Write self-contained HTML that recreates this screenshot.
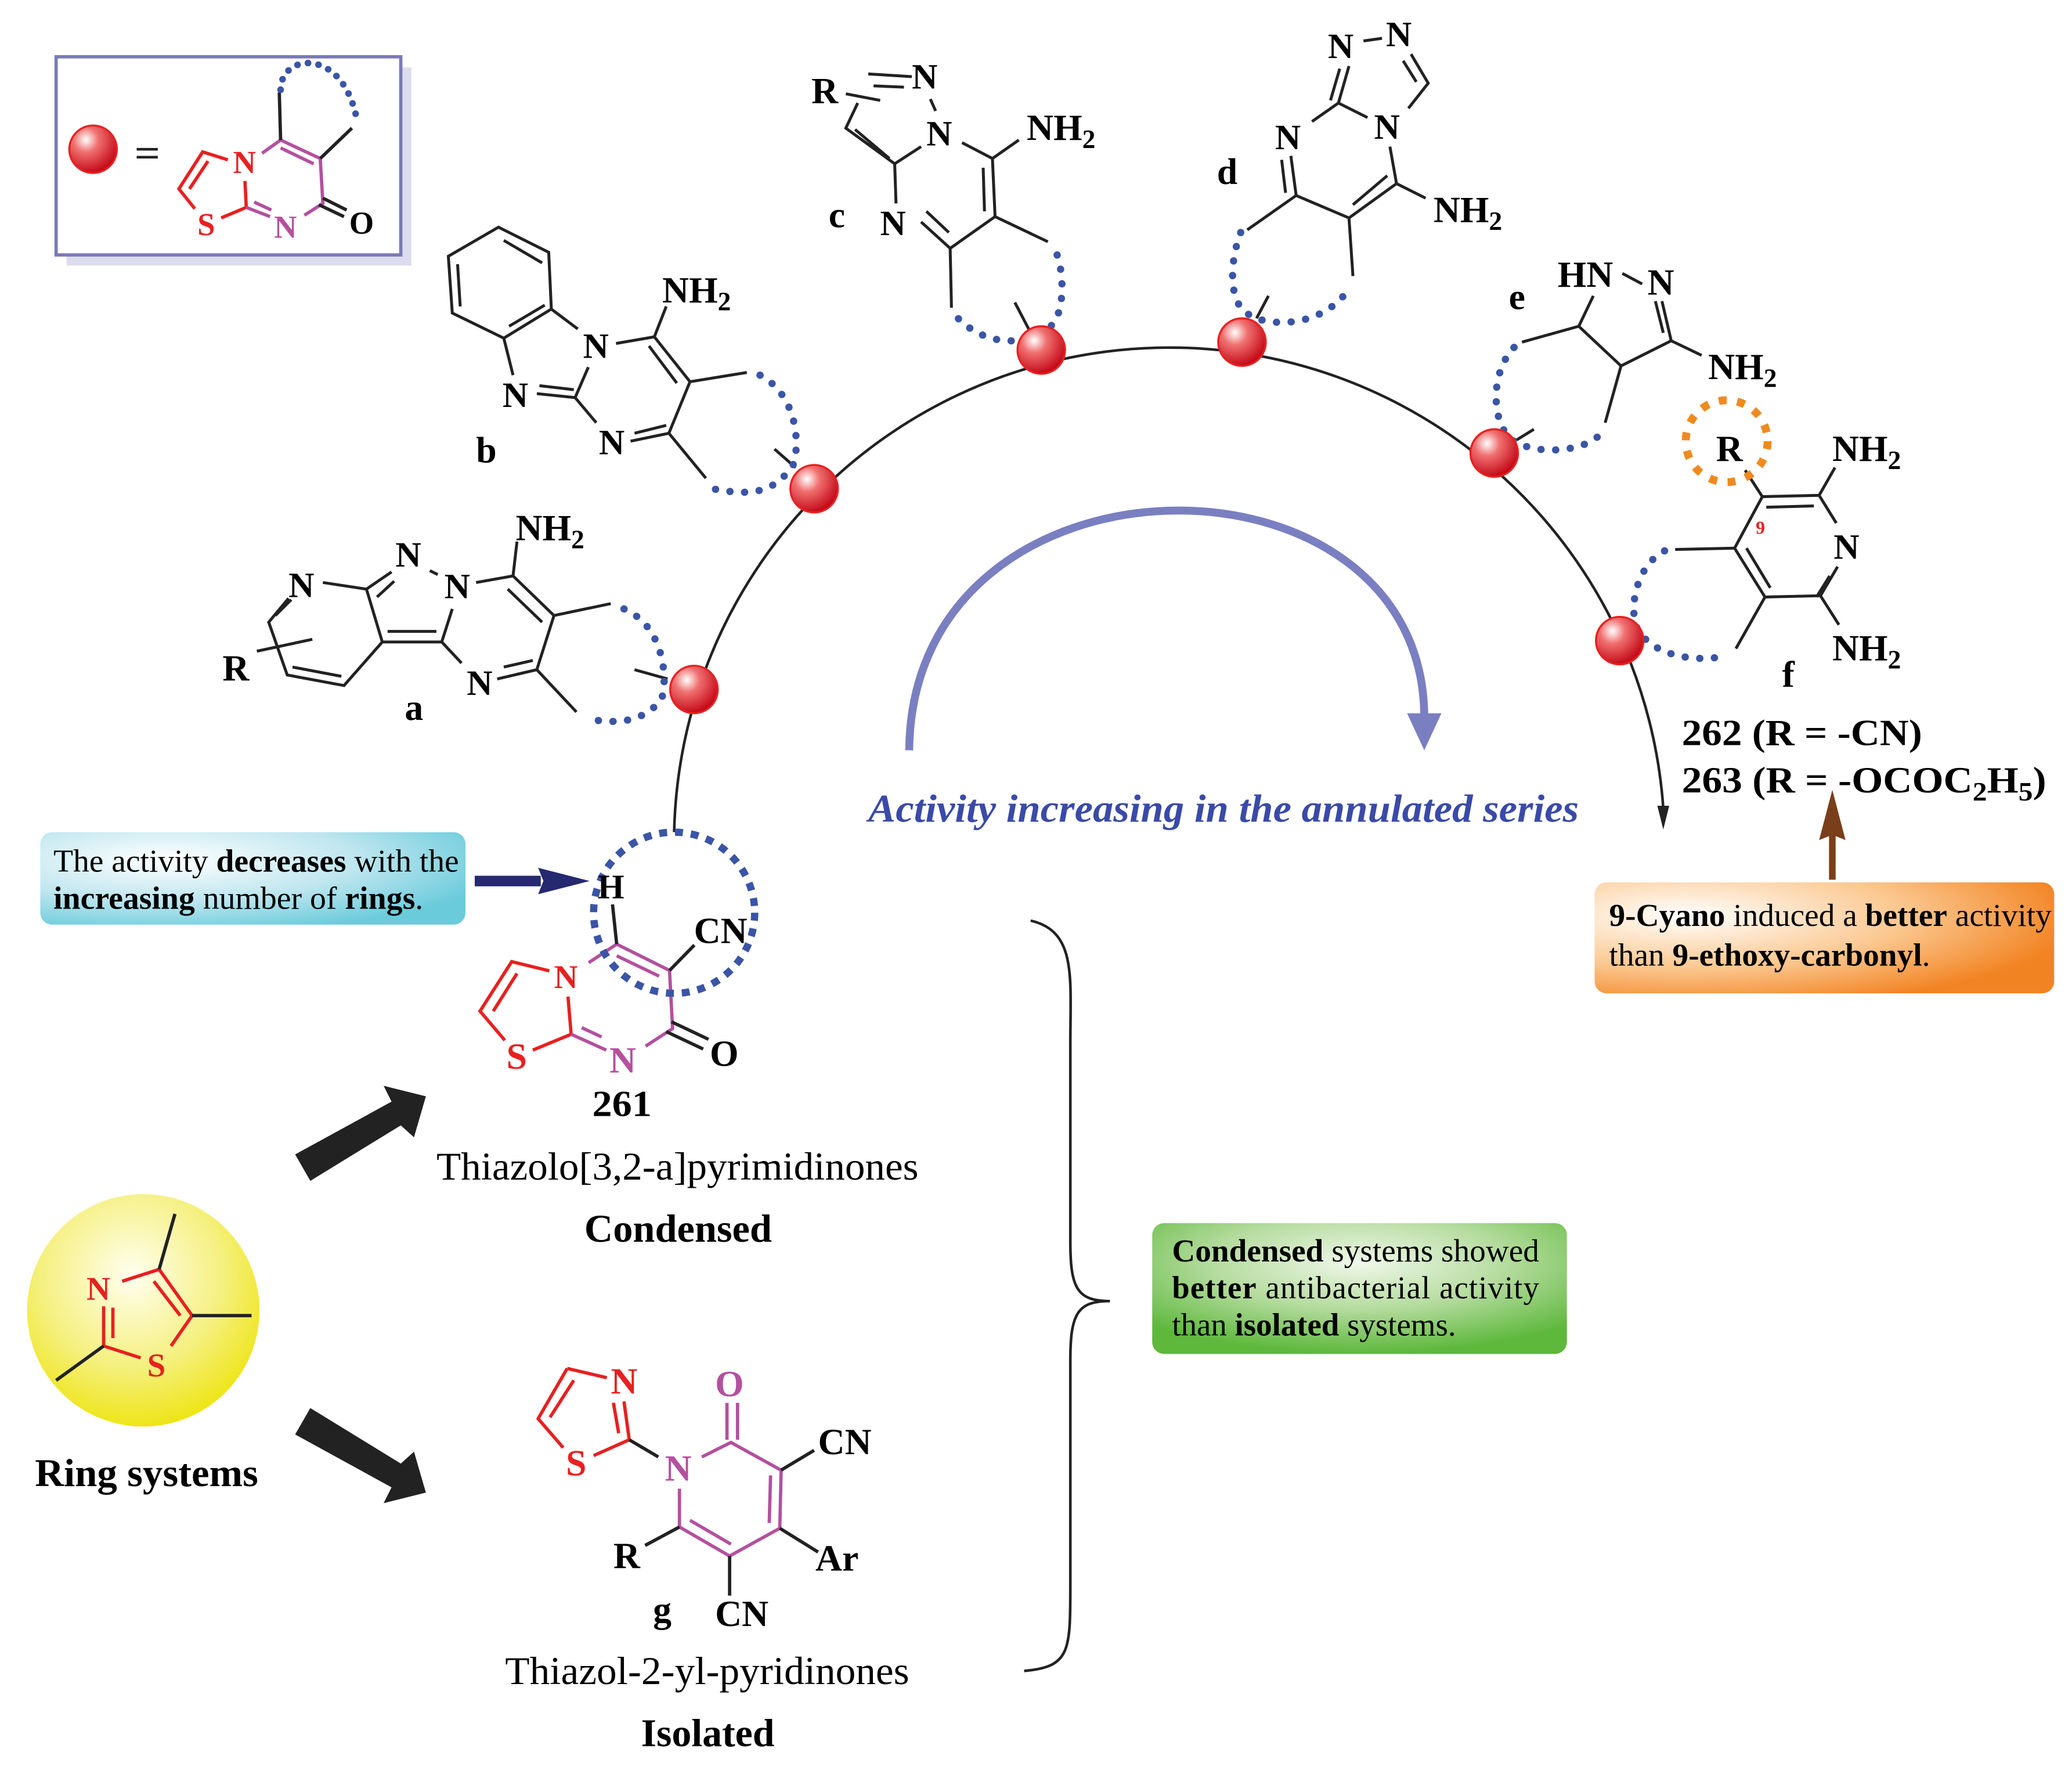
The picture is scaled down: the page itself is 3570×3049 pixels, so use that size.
<!DOCTYPE html>
<html><head><meta charset="utf-8"><style>
html,body{margin:0;padding:0;background:#fff}
svg{display:block}
text{font-family:"Liberation Serif",serif}
</style></head><body>
<svg width="3570" height="3049" viewBox="0 0 1568 1340" xmlns="http://www.w3.org/2000/svg">
<defs>
<radialGradient id="ball" cx="0.35" cy="0.3" r="0.75"><stop offset="0" stop-color="#fff"/><stop offset="0.35" stop-color="#f07070"/><stop offset="1" stop-color="#c00010"/></radialGradient>
<radialGradient id="yel" cx="0.45" cy="0.35" r="0.65"><stop offset="0" stop-color="#fffff0"/><stop offset="0.6" stop-color="#f5f080"/><stop offset="1" stop-color="#eee518"/></radialGradient>
<radialGradient id="cy" cx="0.3" cy="0.3" r="0.8"><stop offset="0" stop-color="#ffffff"/><stop offset="0.55" stop-color="#bfe6ef"/><stop offset="1" stop-color="#6acbdb"/></radialGradient>
<radialGradient id="or" cx="0.2" cy="0.3" r="0.85"><stop offset="0" stop-color="#ffffff"/><stop offset="0.55" stop-color="#fbc890"/><stop offset="1" stop-color="#f28322"/></radialGradient>
<radialGradient id="gr" cx="0.5" cy="0.3" r="0.7"><stop offset="0" stop-color="#f0f8ea"/><stop offset="0.5" stop-color="#b6dca0"/><stop offset="1" stop-color="#5db83b"/></radialGradient>
</defs>
<g font-weight="bold" font-size="28">
<!-- legend box -->
<rect x="50" y="51" width="261" height="150" fill="#dcdcee"/>
<rect x="42" y="43" width="261" height="150" fill="#fff" stroke="#7a7ab8" stroke-width="2.5"/>
<circle cx="70" cy="113" r="18" fill="url(#ball)" stroke="#e82020" stroke-width="1.5"/>
<rect x="103" y="112" width="16" height="2" fill="#222"/><rect x="103" y="118" width="16" height="2" fill="#222"/>
<g fill="none" stroke-width="2.5">
<path d="M172,121 L153,115 L135,143 L147,158 M157,122 L143,143 M167,165 L186,157 L185,137" stroke="#e82020"/>
<path d="M186,157 L204,164 M192,153 L205,159 M230,163 L244,154 L242,120 L212,106 L198,116 M212,112 L237,124" stroke="#b4509e"/>
<path d="M212,106 L211,70 M242,120 L266,97 M244,150 L262,159 M241,155 L260,164" stroke="#222"/>
<path d="M212,68 C212,40 260,35 270,92" stroke="#3a55a6" stroke-dasharray="0.1 8" stroke-linecap="round" stroke-width="5"/>
</g>
<text x="176" y="131" fill="#e82020" font-size="24">N</text>
<text x="149" y="178" fill="#e82020" font-size="24">S</text>
<text x="207" y="180" fill="#b4509e" font-size="24">N</text>
<text x="264" y="177" font-size="24">O</text>

<!-- main arc -->
<path d="M510,630 A375,375 0 0 1 1259,612" fill="none" stroke="#222" stroke-width="2"/>
<path d="M1254.5,610 L1263.5,610 L1259,628 z" fill="#222"/>
<!-- blue arc -->
<path d="M688,568 C690,330 1080,330 1078,545" fill="none" stroke="#7a7fc2" stroke-width="6"/>
<path d="M1065,540 L1078,568 L1091,540 z" fill="#7a7fc2"/>
<text x="657" y="622" fill="#3a4aa8" font-style="italic" font-size="30" textLength="538" lengthAdjust="spacingAndGlyphs">Activity increasing in the annulated series</text>

<g fill="none" stroke="#222" stroke-width="2.2">
<!-- b -->
<path d="M377,172 L415,191 L417,234 L381,256 L342,237 L339,194 z M381,182 L410,199 M346,200 L348,232 M385,247 L412,231"/>
<path d="M417,234 L437,249 M381,256 L388,284 M406,298 L435,301 L445,278 M408,292 L434,295 M435,301 L451,320"/>
<path d="M466,260 L495,255 L504,232 M495,255 L522,289 L506,328 L477,334 M491,262 L512,290 M504,322 L480,328"/>
<path d="M522,289 L565,282 M506,328 L534,362 M586,340 L602,354"/>
<!-- a -->
<path d="M244,441 L277,446 L296,433 M277,446 L289,486 L260,519 L217,511 L203,471 L218,453 M285,452 L298,440 M221,505 L258,512 M208,466 L220,454"/>
<path d="M194,493 L236,484 M289,486 L334,486 L342,461 M293,478 L330,478 M325,432 L331,435"/>
<path d="M360,441 L388,436 L391,410 M388,436 L419,466 L406,507 L376,514 M384,446 L410,471 M403,500 L381,505 M334,486 L349,502"/>
<path d="M419,466 L462,457 M406,507 L436,539 M480,507 L505,514"/>
<!-- c -->
<path d="M640,71 L666,76 M657,56 L690,58 M661,65 L684,66 M704,75 L708,84 M649,78 L640,97 L677,124 L697,111 M647,98 L673,120"/>
<path d="M677,124 L678,154 M697,168 L719,188 L753,164 L751,120 L728,108 M751,120 L771,106 M701,160 L718,176 M745,160 L744,127"/>
<path d="M719,188 L720,233 M753,164 L793,183 M768,229 L780,252"/>
<!-- d -->
<path d="M1032,31 L1046,29 M1068,41 L1081,63 L1066,82 M1062,46 L1072,62 M1035,89 L1013,78 L1021,50 M1013,78 L993,92 M1007,76 L1014,52"/>
<path d="M977,118 L981,148 L1021,165 L1057,139 L1052,111 M970,121 L973,146 M1024,155 L1050,133 M1057,139 L1079,150"/>
<path d="M981,148 L944,174 M1021,165 L1024,209 M960,224 L951,241"/>
<!-- e -->
<path d="M1228,207 L1243,215 M1206,224 L1195,247 L1227,277 L1265,258 L1258,228 M1259,252 L1253,228 M1265,258 L1288,269"/>
<path d="M1195,247 L1152,259 M1227,277 L1215,320 M1161,325 L1148,333"/>
<!-- f -->
<path d="M1321,356 L1334,376 L1377,375 L1389,354 M1377,375 L1390,396 M1337,384 L1373,383 M1391,429 L1378,451 L1336,452 L1313,415 L1334,376 M1385,436 L1375,452 M1322,415 L1340,445"/>
<path d="M1378,451 L1392,473 M1313,415 L1268,416 M1336,452 L1314,491"/>
</g>
<!-- blue dotted arcs -->
<g fill="none" stroke="#3a55a6" stroke-width="5.5" stroke-linecap="round" stroke-dasharray="0.1 11">
<path d="M575,284 C605,300 605,340 600,352 C585,375 565,375 539,370"/>
<path d="M472,461 C505,475 505,520 500,530 C485,548 465,548 443,544"/>
<path d="M800,193 C806,210 806,245 790,250 C775,262 745,262 724,240"/>
<path d="M939,176 C930,200 930,230 945,238 C960,248 1000,248 1020,220"/>
<path d="M1146,263 C1125,285 1130,330 1150,336 C1170,345 1200,340 1210,330"/>
<path d="M1260,417 C1235,430 1232,470 1242,480 C1258,500 1290,500 1304,497"/>
</g>
<circle cx="1307" cy="334" r="31" fill="none" stroke="#f08a20" stroke-width="6" stroke-dasharray="6 8"/>

<text x="501" y="229">NH<tspan font-size="20" dy="6">2</tspan></text>
<text x="380" y="308" font-size="27">N</text><text x="441" y="271" font-size="27">N</text><text x="453" y="344" font-size="27">N</text>
<text x="360" y="350">b</text>
<text x="218" y="452" font-size="27">N</text><text x="299" y="429" font-size="27">N</text><text x="336" y="453" font-size="27">N</text><text x="353" y="526" font-size="27">N</text>
<text x="390" y="409">NH<tspan font-size="20" dy="6">2</tspan></text>
<text x="168" y="515">R</text><text x="306" y="545">a</text>
<text x="614" y="78">R</text><text x="690" y="67" font-size="27">N</text><text x="701" y="110" font-size="27">N</text><text x="666" y="178" font-size="27">N</text>
<text x="777" y="106">NH<tspan font-size="20" dy="6">2</tspan></text><text x="627" y="172">c</text>
<text x="1005" y="44" font-size="27">N</text><text x="1049" y="35" font-size="27">N</text><text x="1040" y="105" font-size="27">N</text><text x="965" y="113" font-size="27">N</text>
<text x="1085" y="168">NH<tspan font-size="20" dy="6">2</tspan></text><text x="921" y="139">d</text>
<text x="1179" y="217">HN</text><text x="1247" y="223">N</text>
<text x="1293" y="287">NH<tspan font-size="20" dy="6">2</tspan></text><text x="1142" y="234">e</text>
<text x="1299" y="349">R</text><text x="1388" y="423" font-size="27">N</text>
<text x="1387" y="349">NH<tspan font-size="20" dy="6">2</tspan></text>
<text x="1387" y="500">NH<tspan font-size="20" dy="6">2</tspan></text>
<text x="1329" y="404" fill="#e82020" font-size="14">9</text>
<text x="1349" y="520">f</text>
<text x="1273" y="564" textLength="182" lengthAdjust="spacingAndGlyphs">262 (R = -CN)</text>
<text x="1273" y="600" textLength="276" lengthAdjust="spacingAndGlyphs">263 (R = -OCOC<tspan font-size="20" dy="6">2</tspan><tspan dy="-6">H</tspan><tspan font-size="20" dy="6">5</tspan><tspan dy="-6">)</tspan></text>

<!-- balls -->
<g fill="url(#ball)" stroke="#e82020" stroke-width="1.5">
<circle cx="525" cy="522" r="18"/>
<circle cx="616" cy="370" r="18"/>
<circle cx="788" cy="265" r="18"/>
<circle cx="940" cy="259" r="18"/>
<circle cx="1131" cy="343" r="18"/>
<circle cx="1226" cy="485" r="18"/>
</g>

<!-- cyan box -->
<rect x="30" y="630" width="322" height="70" rx="9" fill="url(#cy)"/>
<text x="40" y="660" font-size="24" textLength="307" lengthAdjust="spacingAndGlyphs"><tspan font-weight="normal">The activity </tspan>decreases<tspan font-weight="normal"> with the</tspan></text>
<text x="40" y="688" font-size="24" textLength="280" lengthAdjust="spacingAndGlyphs">increasing<tspan font-weight="normal"> number of </tspan>rings<tspan font-weight="normal">.</tspan></text>
<rect x="359" y="663" width="50" height="8" fill="#262870"/>
<path d="M407,657 L446,667 L407,677 L411,667 z" fill="#262870"/>

<!-- orange box -->
<rect x="1207" y="668" width="348" height="84" rx="9" fill="url(#or)"/>
<text x="1218" y="701" font-size="24" textLength="335" lengthAdjust="spacingAndGlyphs">9-Cyano<tspan font-weight="normal"> induced a </tspan>better<tspan font-weight="normal"> activity</tspan></text>
<text x="1218" y="731" font-size="24" textLength="243" lengthAdjust="spacingAndGlyphs"><tspan font-weight="normal">than </tspan>9-ethoxy-carbonyl<tspan font-weight="normal">.</tspan></text>
<rect x="1384.5" y="632" width="5" height="34" fill="#7a3e1a"/>
<path d="M1377,636 L1387,598 L1397,636 L1387,632 z" fill="#7a3e1a"/>

<!-- 261 -->
<g fill="none" stroke-width="2.5">
<path d="M415.5,735 L387,728 L363,765.5 L381.8,787.6 M391,737 L373,765.5 M403,795 L432,783 L429.6,754.5" stroke="#e82020"/>
<path d="M432,783 L458.6,795 M440,778 L455,785 M488.4,792 L508.8,778.7 L506.5,734.7 L466.5,714.8 L445.3,728.8 M466.5,723.6 L498.6,739" stroke="#b4509e"/>
<path d="M466.5,714.8 L463.3,684.7 M506.5,734.7 L525.3,715.5 M508,773.6 L536,786.8 M504,781 L532,794.2" stroke="#222"/>
<ellipse cx="510" cy="691" rx="61" ry="61" stroke="#3a55a6" stroke-dasharray="6 6" stroke-width="5.5"/>
</g>
<text x="452" y="680" font-size="26">H</text>
<text x="525" y="714">CN</text>
<text x="419" y="748" fill="#e82020" font-size="25">N</text>
<text x="383" y="809" fill="#e82020">S</text>
<text x="461" y="812" fill="#b4509e">N</text>
<text x="537" y="807">O</text>
<text x="448" y="845" textLength="45" lengthAdjust="spacingAndGlyphs">261</text>
<text x="330" y="893" font-weight="normal" font-size="30" textLength="365" lengthAdjust="spacingAndGlyphs">Thiazolo[3,2-a]pyrimidinones</text>
<text x="442" y="940" font-size="30" textLength="142" lengthAdjust="spacingAndGlyphs">Condensed</text>

<!-- yellow ring systems -->
<circle cx="108" cy="992" r="88" fill="url(#yel)"/>
<g fill="none" stroke-width="2.5">
<path d="M92,970 L120,961 L145,996 L129,1019 M116,970 L136,996 M106,1028 L78,1019 L78,989 M85,1013 L85,990" stroke="#e82020"/>
<path d="M120,961 L132,919 M145,996 L190,996 M78,1019 L42,1045" stroke="#222"/>
</g>
<text x="65" y="984" fill="#e82020" font-size="25">N</text><text x="111" y="1042" fill="#e82020" font-size="25">S</text>
<text x="26" y="1125" font-size="30" textLength="169" lengthAdjust="spacingAndGlyphs">Ring systems</text>

<!-- black arrows -->
<path d="M234.5,1066 L303,1108 L313,1099 L322,1130 L290,1138 L296,1126 L223,1086 z" fill="#222"/>
<path d="M234.5,906 L303,864 L313,873 L322,842 L290,834 L296,846 L223,886 z" fill="#222" transform="translate(0,-12)"/>

<!-- g -->
<g fill="none" stroke-width="2.5">
<path d="M429,1036 L459,1043 M429,1036 L407,1074 L426,1096 M434,1045 L416,1073 M449,1102 L476,1090 L472,1061 M468,1085 L464,1062" stroke="#e82020"/>
<path d="M531,1103 L553,1092 L591,1113 L590,1157 L552,1178 L514,1156 L514,1127 M583,1117 L582,1153 M522,1151 L553,1169 M550,1090 L550,1062 M558,1090 L558,1062" stroke="#b4509e"/>
<path d="M476,1090 L498,1103 M591,1113 L616,1098 M590,1157 L619,1175 M552,1178 L552,1208 M514,1156 L488,1170" stroke="#222"/>
</g>
<text x="462" y="1055" fill="#e82020">N</text><text x="428" y="1117" fill="#e82020">S</text>
<text x="503" y="1121" fill="#b4509e">N</text><text x="541" y="1057" fill="#b4509e">O</text>
<text x="619" y="1101">CN</text><text x="617" y="1189">Ar</text><text x="464" y="1187">R</text>
<text x="541" y="1231">CN</text><text x="494" y="1228">g</text>
<text x="382" y="1275" font-weight="normal" font-size="30" textLength="306" lengthAdjust="spacingAndGlyphs">Thiazol-2-yl-pyridinones</text>
<text x="485" y="1322" font-size="30" textLength="101" lengthAdjust="spacingAndGlyphs">Isolated</text>

<!-- brace -->
<path d="M780,697 C815,705 810,740 810,790 L810,940 C810,975 815,985 840,985 C815,985 810,995 810,1030 L810,1200 C810,1250 810,1262 775,1265" fill="none" stroke="#222" stroke-width="2"/>

<!-- green box -->
<rect x="872" y="926" width="314" height="99" rx="9" fill="url(#gr)"/>
<text x="887" y="955" font-size="24" textLength="278" lengthAdjust="spacingAndGlyphs">Condensed<tspan font-weight="normal"> systems showed</tspan></text>
<text x="887" y="983" font-size="24" textLength="278" lengthAdjust="spacing">better<tspan font-weight="normal"> antibacterial activity</tspan></text>
<text x="887" y="1011" font-size="24" textLength="215" lengthAdjust="spacingAndGlyphs"><tspan font-weight="normal">than </tspan>isolated<tspan font-weight="normal"> systems.</tspan></text>
</g>
</svg>
</body></html>
